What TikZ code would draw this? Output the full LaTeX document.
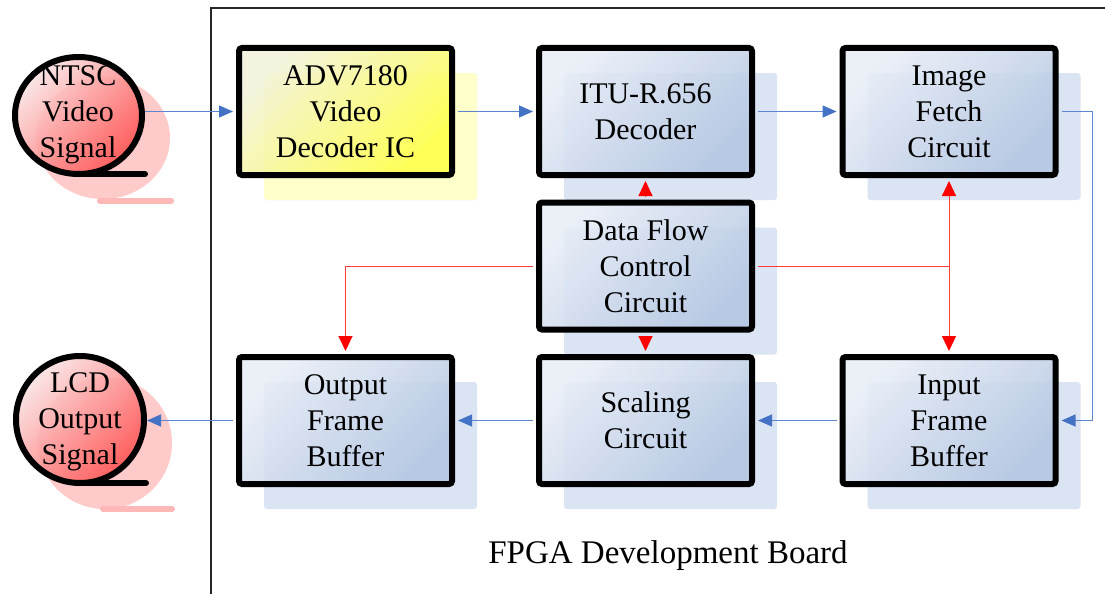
\documentclass[tikz,border=0pt]{standalone}
\usepackage{fontspec}
\setmainfont{Liberation Serif}
\usetikzlibrary{arrows.meta,shadows}
\definecolor{bxlight}{HTML}{E9EEF7}
\definecolor{bxdark}{HTML}{B3C6E2}
\definecolor{bxshadow}{HTML}{DBE4F2}
\definecolor{ylight}{HTML}{F2F2DC}
\definecolor{ydark}{HTML}{FFFF48}
\definecolor{yshadow}{HTML}{FFFFCC}
\definecolor{rlight}{HTML}{FBE4E4}
\definecolor{rdark}{HTML}{FF5050}
\definecolor{rshadow}{HTML}{FFCACA}
\definecolor{rshadowtail}{HTML}{FFB8B8}
\definecolor{blueline}{HTML}{5B86CF}
\definecolor{bluehead}{HTML}{4472C4}
\definecolor{redline}{HTML}{FF3C3C}
\tikzset{
  blockbox/.style={draw=black, line width=6pt, rounded corners=3pt,
    minimum width=213pt, minimum height=127pt, align=center,
    font=\fontsize{30}{36}\selectfont,
    top color=bxlight, bottom color=bxdark, shading angle=45,
    fill opacity=0.88, text opacity=1,
    drop shadow={shadow xshift=25pt, shadow yshift=-25pt, fill=bxshadow, opacity=1}},
  yellowbox/.style={blockbox, top color=ylight, bottom color=ydark, shading angle=45,
    drop shadow={shadow xshift=25pt, shadow yshift=-25pt, fill=yshadow, opacity=1}},
  sigfill/.style={top color=rlight, bottom color=rdark, shading angle=45, fill opacity=0.88},
  sigtext/.style={align=center, font=\fontsize{30}{36}\selectfont, inner sep=0pt},
  tailline/.style={line width=6pt, line cap=round},
  bluearrow/.style={draw=blueline, line width=1.1pt, shorten <=3pt, shorten >=3pt,
    -{Triangle[length=14pt,width=12pt,color=bluehead]}},
  redarrow/.style={draw=redline, line width=1pt, shorten <=3pt, shorten >=3pt,
    -{Triangle[length=15pt,width=14pt,color=red]}}
}
\begin{document}
\begin{tikzpicture}[x=1pt,y=-1pt]
\useasboundingbox (0,0) rectangle (1105,594);
\fill[white] (0,0) rectangle (1105,594);
% board frame
\draw[line width=2pt, draw=black!85] (211,594) -- (211,8) -- (1105,8);
\node[font=\fontsize{33}{40}\selectfont] (board) at (668,556) {FPGA Development Board};
% signal circles: shadows
\fill[rshadow] (103,138) ellipse[x radius=67pt, y radius=61pt];
\draw[rshadowtail, tailline] (100,201) -- (171,201);
\fill[rshadow] (105,443) ellipse[x radius=67pt, y radius=66pt];
\draw[rshadowtail, tailline] (103,509) -- (172,509);
% NTSC circle
\shade[sigfill] (78.5,115.5) ellipse[x radius=63.5pt, y radius=58.5pt];
\draw[line width=6pt] (78.5,115.5) ellipse[x radius=63.5pt, y radius=58.5pt];
\draw[tailline] (78.5,174) -- (145,174);
\node[sigtext] (ntsc) at (78,114.5) {NTSC\\Video\\Signal};
\coordinate (ntsce) at (142,111.5);
% LCD circle
\shade[sigfill] (80,419.5) ellipse[x radius=64pt, y radius=63.5pt];
\draw[line width=6pt] (80,419.5) ellipse[x radius=64pt, y radius=63.5pt];
\draw[tailline] (80,483) -- (146,483);
\node[sigtext] (lcd) at (80,421.5) {LCD\\Output\\Signal};
\coordinate (lcde) at (144,420.5);
% blocks
\node[yellowbox] (adv) at (345.5,111.5) {ADV7180\\Video\\Decoder IC};
\node[blockbox] (itu) at (645.5,111.5) {ITU-R.656\\Decoder};
\node[blockbox] (img) at (949,111.5) {Image\\Fetch\\Circuit};
\node[blockbox] (dfc) at (645.5,266) {Data Flow\\Control\\Circuit};
\node[blockbox] (out) at (345.5,420.5) {Output\\Frame\\Buffer};
\node[blockbox] (scl) at (645.5,420.5) {Scaling\\Circuit};
\node[blockbox] (inp) at (949,420.5) {Input\\Frame\\Buffer};
% blue data path
\draw[bluearrow] (ntsce) -- (adv.west);
\draw[bluearrow] (adv.east) -- (itu.west);
\draw[bluearrow] (itu.east) -- (img.west);
\draw[bluearrow] (img.east) -- ([xshift=34pt]img.east) |- (inp.east);
\draw[bluearrow] (inp.west) -- (scl.east);
\draw[bluearrow] (scl.west) -- (out.east);
\draw[bluearrow] (out.west) -- (lcde);
% red control
\draw[redarrow] (dfc.north) -- (itu.south);
\draw[redarrow] (dfc.south) -- (scl.north);
\draw[redarrow] (dfc.west) -| (out.north);
\draw[redarrow] (dfc.east) -| (img.south);
\draw[redarrow] (dfc.east) -| (inp.north);
\end{tikzpicture}
\end{document}
